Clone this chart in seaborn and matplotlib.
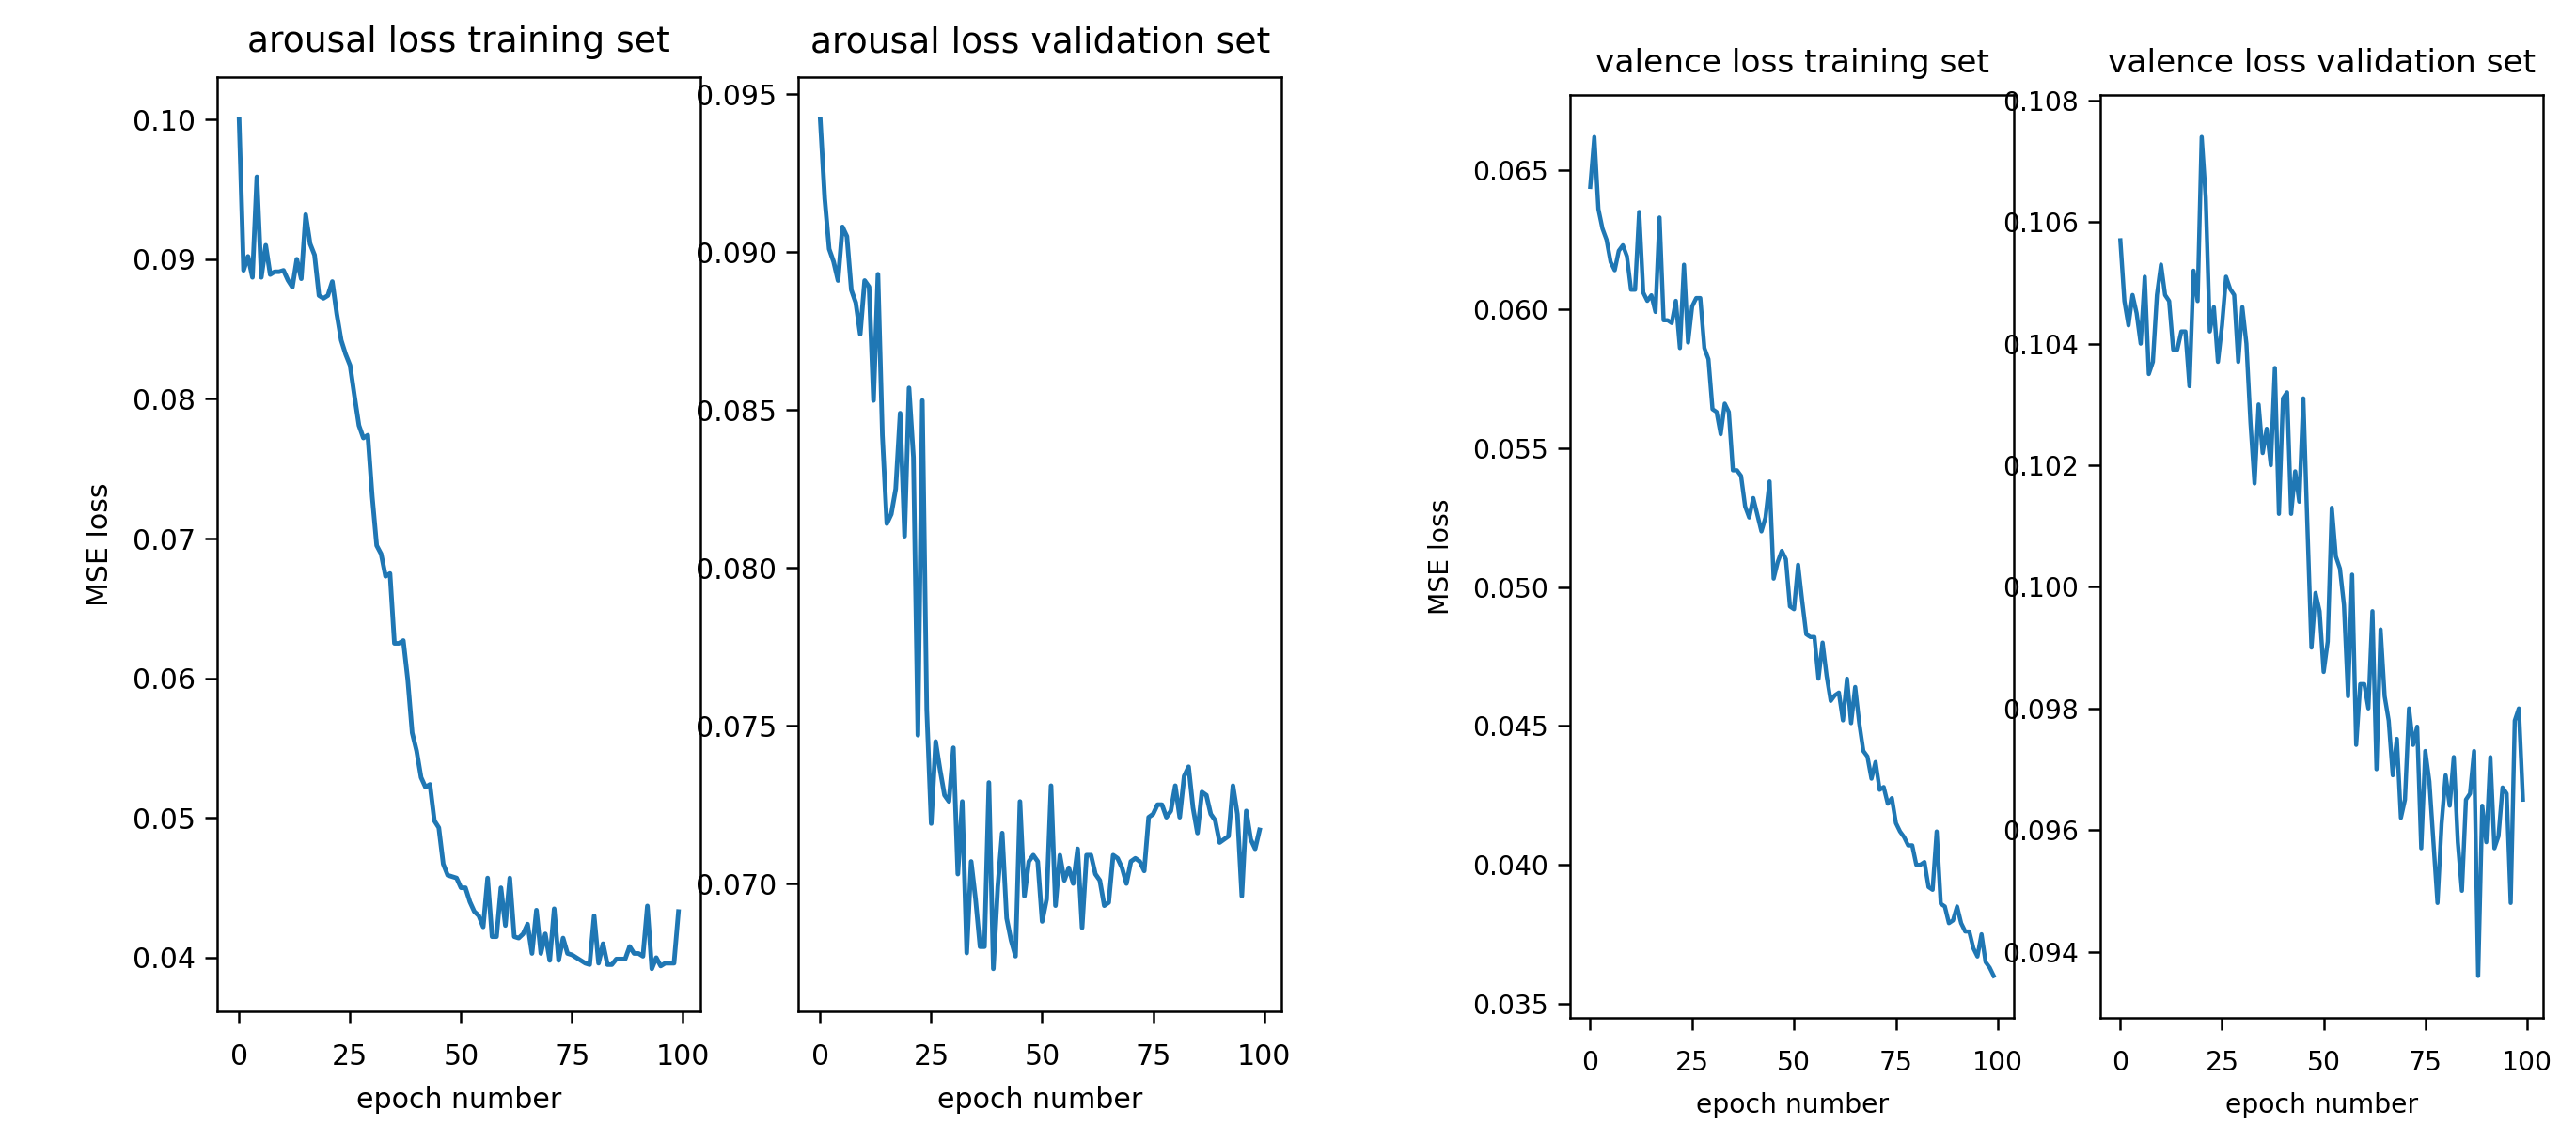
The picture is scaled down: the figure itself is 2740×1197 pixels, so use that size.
import matplotlib
matplotlib.use("Agg")
import matplotlib.pyplot as plt
import seaborn as sns

# epochs 0..99
epochs = list(range(100))

arousal_train = [
    0.1000, 0.0892, 0.0902, 0.0887, 0.0959, 0.0887, 0.0910, 0.0889, 0.0891, 0.0891,
    0.0892, 0.0885, 0.0880, 0.0900, 0.0886, 0.0932, 0.0911, 0.0903, 0.0874, 0.0872,
    0.0874, 0.0884, 0.0861, 0.0842, 0.0832, 0.0824, 0.0802, 0.0781, 0.0772, 0.0774,
    0.0730, 0.0695, 0.0689, 0.0673, 0.0675, 0.0625, 0.0625, 0.0627, 0.0599, 0.0561,
    0.0548, 0.0529, 0.0522, 0.0524, 0.0498, 0.0493, 0.0467, 0.0459, 0.0458, 0.0457,
    0.0450, 0.0450, 0.0440, 0.0433, 0.0430, 0.0422, 0.0457, 0.0415, 0.0415, 0.0450,
    0.0423, 0.0457, 0.0415, 0.0414, 0.0417, 0.0424, 0.0403, 0.0434, 0.0403, 0.0417,
    0.0398, 0.0435, 0.0398, 0.0414, 0.0403, 0.0402, 0.0400, 0.0398, 0.0396, 0.0395,
    0.0430, 0.0396, 0.0410, 0.0395, 0.0395, 0.0399, 0.0399, 0.0399, 0.0408, 0.0403,
    0.0403, 0.0401, 0.0437, 0.0392, 0.0400, 0.0394, 0.0396, 0.0396, 0.0396, 0.0433,
]

arousal_val = [
    0.0942, 0.0917, 0.0901, 0.0897, 0.0891, 0.0908, 0.0905, 0.0888, 0.0884, 0.0874,
    0.0891, 0.0889, 0.0853, 0.0893, 0.0842, 0.0814, 0.0817, 0.0825, 0.0849, 0.0810,
    0.0857, 0.0835, 0.0747, 0.0853, 0.0755, 0.0719, 0.0745, 0.0736, 0.0728, 0.0726,
    0.0743, 0.0703, 0.0726, 0.0678, 0.0707, 0.0695, 0.0680, 0.0680, 0.0732, 0.0673,
    0.0699, 0.0716, 0.0689, 0.0682, 0.0677, 0.0726, 0.0696, 0.0707, 0.0709, 0.0707,
    0.0688, 0.0695, 0.0731, 0.0693, 0.0709, 0.0701, 0.0705, 0.0700, 0.0711, 0.0686,
    0.0709, 0.0709, 0.0703, 0.0701, 0.0693, 0.0694, 0.0709, 0.0708, 0.0705, 0.0700,
    0.0707, 0.0708, 0.0707, 0.0704, 0.0721, 0.0722, 0.0725, 0.0725, 0.0721, 0.0723,
    0.0731, 0.0721, 0.0734, 0.0737, 0.0724, 0.0716, 0.0729, 0.0728, 0.0722, 0.0720,
    0.0713, 0.0714, 0.0715, 0.0731, 0.0722, 0.0696, 0.0723, 0.0714, 0.0711, 0.0717,
]

valence_train = [
    0.0644, 0.0662, 0.0636, 0.0629, 0.0625, 0.0617, 0.0614, 0.0621, 0.0623, 0.0619,
    0.0607, 0.0607, 0.0635, 0.0606, 0.0603, 0.0605, 0.0599, 0.0633, 0.0596, 0.0596,
    0.0595, 0.0603, 0.0586, 0.0616, 0.0588, 0.0601, 0.0604, 0.0604, 0.0586, 0.0582,
    0.0564, 0.0563, 0.0555, 0.0566, 0.0563, 0.0542, 0.0542, 0.0540, 0.0529, 0.0525,
    0.0532, 0.0526, 0.0520, 0.0525, 0.0538, 0.0503, 0.0509, 0.0513, 0.0510, 0.0493,
    0.0492, 0.0508, 0.0495, 0.0483, 0.0482, 0.0482, 0.0467, 0.0480, 0.0468, 0.0459,
    0.0461, 0.0462, 0.0452, 0.0467, 0.0451, 0.0464, 0.0451, 0.0441, 0.0439, 0.0431,
    0.0437, 0.0427, 0.0428, 0.0422, 0.0424, 0.0415, 0.0412, 0.0410, 0.0407, 0.0407,
    0.0400, 0.0400, 0.0401, 0.0392, 0.0391, 0.0412, 0.0386, 0.0385, 0.0379, 0.0380,
    0.0385, 0.0379, 0.0376, 0.0376, 0.0370, 0.0367, 0.0375, 0.0365, 0.0363, 0.0360,
]

valence_val = [
    0.1057, 0.1047, 0.1043, 0.1048, 0.1045, 0.1040, 0.1051, 0.1035, 0.1037, 0.1048,
    0.1053, 0.1048, 0.1047, 0.1039, 0.1039, 0.1042, 0.1042, 0.1033, 0.1052, 0.1047,
    0.1074, 0.1064, 0.1042, 0.1046, 0.1037, 0.1043, 0.1051, 0.1049, 0.1048, 0.1037,
    0.1046, 0.1040, 0.1027, 0.1017, 0.1030, 0.1022, 0.1026, 0.1020, 0.1036, 0.1012,
    0.1031, 0.1032, 0.1012, 0.1019, 0.1014, 0.1031, 0.1010, 0.0990, 0.0999, 0.0996,
    0.0986, 0.0991, 0.1013, 0.1005, 0.1003, 0.0997, 0.0982, 0.1002, 0.0974, 0.0984,
    0.0984, 0.0980, 0.0996, 0.0970, 0.0993, 0.0982, 0.0978, 0.0969, 0.0975, 0.0962,
    0.0965, 0.0980, 0.0974, 0.0977, 0.0957, 0.0973, 0.0968, 0.0958, 0.0948, 0.0961,
    0.0969, 0.0964, 0.0972, 0.0958, 0.0950, 0.0965, 0.0966, 0.0973, 0.0936, 0.0964,
    0.0958, 0.0972, 0.0957, 0.0959, 0.0967, 0.0966, 0.0948, 0.0978, 0.0980, 0.0965,
]

titles = ["arousal loss training set", "arousal loss validation set",
          "valence loss training set", "valence loss validation set"]

plt.rcParams['font.family'] = ['DejaVu Sans']

fig = plt.figure(figsize=(13.7, 5.985), dpi=200)

# left pair (bigger screenshot), right pair (slightly smaller)
boxes = [
    [0.0843, 0.1011, 0.1876, 0.8304],
    [0.3099, 0.1011, 0.1876, 0.8304],
    [0.6095, 0.0952, 0.1723, 0.8204],
    [0.8153, 0.0952, 0.1719, 0.8204],
]
series = [arousal_train, arousal_val, valence_train, valence_val]

for i, (box, ys, title) in enumerate(zip(boxes, series, titles)):
    left = i < 2
    tick_fs = 10.8 if left else 10.2
    lab_fs = 10.8 if left else 10.2
    title_fs = 13.6 if left else 12.4
    ax = fig.add_axes(box)
    sns.lineplot(x=epochs, y=ys, ax=ax, color='#1f77b4',
                 linewidth=1.75 if left else 1.6)
    ax.set_title(title, fontsize=title_fs, pad=9.6 if left else 8.6)
    ax.set_xlabel('epoch number', fontsize=lab_fs, labelpad=6)
    if i in (0, 2):
        ax.set_ylabel('MSE loss', fontsize=lab_fs, labelpad=7)
    ax.set_xticks([0, 25, 50, 75, 100])
    ax.tick_params(labelsize=tick_fs, length=4.8, width=0.9)
    ax.tick_params(axis='x', pad=7.5)
    for s in ax.spines.values():
        s.set_linewidth(0.9)

fig.savefig('out.png', dpi=200)
